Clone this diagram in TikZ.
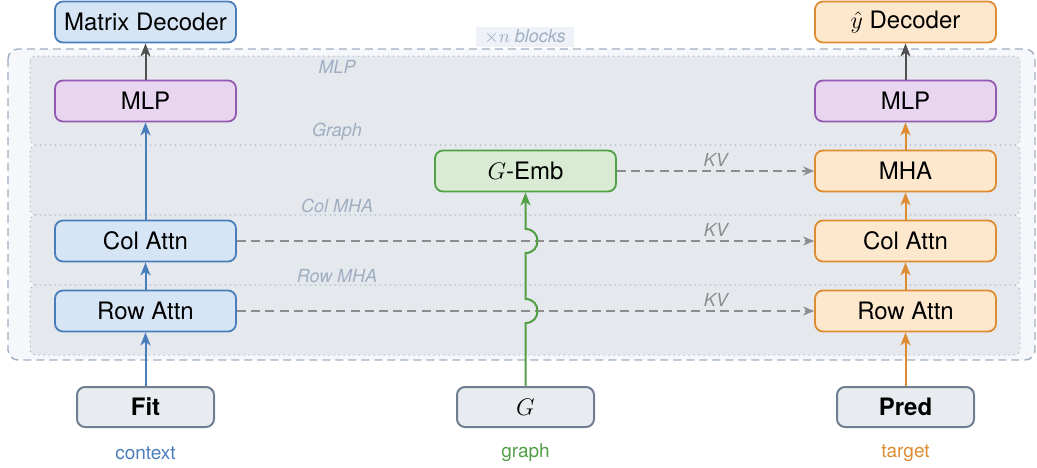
\documentclass[tikz,border=0pt]{standalone}
\usepackage{amsmath}
\usepackage{fontspec}
\setmainfont{TeX Gyre Heros}
\usetikzlibrary{arrows.meta,calc}

\definecolor{blueline}{RGB}{74,126,187}
\definecolor{bluefill}{RGB}{214,229,245}
\definecolor{purpline}{RGB}{148,90,178}
\definecolor{purpfill}{RGB}{232,214,240}
\definecolor{greenline}{RGB}{82,160,70}
\definecolor{greenfill}{RGB}{217,236,211}
\definecolor{orangeline}{RGB}{222,140,50}
\definecolor{orangefill}{RGB}{253,232,206}
\definecolor{inputline}{RGB}{112,126,145}
\definecolor{inputfill}{RGB}{232,236,240}
\definecolor{bandfill}{RGB}{229,232,237}
\definecolor{framefill}{RGB}{246,247,250}
\definecolor{framecol}{RGB}{160,174,194}
\definecolor{tagfill}{RGB}{238,241,247}
\definecolor{kvgray}{RGB}{140,140,140}
\definecolor{outgray}{RGB}{80,80,80}

\tikzset{
  box/.style={rounded corners=4pt, line width=0.9pt, minimum width=90.5pt,
    minimum height=20.5pt, inner sep=0pt, font=\fontsize{12}{14}\selectfont},
  ctxbox/.style={box, draw=blueline, fill=bluefill},
  mlpbox/.style={box, draw=purpline, fill=purpfill},
  graphbox/.style={box, draw=greenline, fill=greenfill},
  tgtbox/.style={box, draw=orangeline, fill=orangefill},
  inbox/.style={box, draw=inputline, fill=inputfill, minimum width=68.5pt,
    minimum height=20pt, line width=1pt},
  band/.style={draw=framecol, dotted, fill=bandfill, rounded corners=3pt, line width=0.5pt},
  bandlab/.style={text=framecol, font=\fontsize{9}{11}\selectfont\itshape, inner sep=0pt},
  sublab/.style={font=\fontsize{9.5}{11}\selectfont, inner sep=0pt},
  flow/.style={draw=#1, line width=1pt, -{Stealth[length=6.5pt,width=5pt,inset=1.8pt]}},
  kvarrow/.style={draw=kvgray, line width=0.9pt, dash pattern=on 4.5pt off 2.6pt,
    -{Stealth[length=5.5pt,width=4.5pt,inset=1.8pt]}},
  kvlab/.style={text=kvgray, font=\fontsize{9}{11}\selectfont\itshape, above, inner sep=2pt}
}

\begin{document}
\begin{tikzpicture}[x=0.5pt,y=-0.5pt]
  \useasboundingbox (0,0) rectangle (1037,467);

  % the repeated block and its four bands
  \draw[framecol, fill=framefill, rounded corners=5pt, line width=0.7pt,
    dash pattern=on 4pt off 2.5pt] (8,49) rectangle (1035,360);
  \node[fill=tagfill, text=framecol, font=\fontsize{9}{11}\selectfont\itshape,
    inner xsep=4pt, inner ysep=1.5pt] (reps) at (525,37) {$\times n$ blocks};
  \draw[band] (30,56) rectangle (1020,145);
  \draw[band] (30,145) rectangle (1020,215);
  \draw[band] (30,215) rectangle (1020,285);
  \draw[band] (30,285) rectangle (1020,355);
  \node[bandlab] (labmlp) at (337,67) {MLP};
  \node[bandlab] (labgraph) at (337,132) {Graph};
  \node[bandlab] (labcol) at (337,206) {Col MHA};
  \node[bandlab] (labrow) at (337,276) {Row MHA};

  % context side
  \node[ctxbox] (matdec) at (145.5,22) {Matrix Decoder};
  \node[mlpbox] (mlpL) at (145.5,101) {MLP};
  \node[ctxbox] (colL) at (145.5,241) {Col Attn};
  \node[ctxbox] (rowL) at (145.5,311) {Row Attn};
  \node[inbox] (fit) at (145.5,407) {\textbf{Fit}};
  \node[sublab, text=blueline] (ctxlab) at (145.5,453) {context};

  % graph
  \node[graphbox] (gemb) at (525.5,171) {$G$-Emb};
  \node[inbox] (gin) at (525.5,407) {$G$};
  \node[sublab, text=greenline] (graphlab) at (525.5,453) {graph};

  % target side
  \node[tgtbox] (ydec) at (905.5,22) {$\hat{y}$\ Decoder};
  \node[mlpbox] (mlpR) at (905.5,101) {MLP};
  \node[tgtbox] (mha) at (905.5,171) {MHA};
  \node[tgtbox] (colR) at (905.5,241) {Col Attn};
  \node[tgtbox] (rowR) at (905.5,311) {Row Attn};
  \node[inbox] (pred) at (905.5,407) {\textbf{Pred}};
  \node[sublab, text=orangeline] (tgtlab) at (905.5,453) {target};

  % vertical flow
  \draw[flow=blueline] (fit) -- (rowL);
  \draw[flow=blueline] (rowL) -- (colL);
  \draw[flow=blueline] (colL) -- (mlpL);
  \draw[flow=outgray] (mlpL) -- (matdec);
  \draw[flow=orangeline] (pred) -- (rowR);
  \draw[flow=orangeline] (rowR) -- (colR);
  \draw[flow=orangeline] (colR) -- (mha);
  \draw[flow=orangeline] (mha) -- (mlpR);
  \draw[flow=outgray] (mlpR) -- (ydec);

  % key/value links
  \draw[kvarrow] (rowL.east) -- (rowR.west) node[kvlab, pos=0.83] {KV};
  \draw[kvarrow] (colL.east) -- (colR.west) node[kvlab, pos=0.83] {KV};
  \draw[kvarrow] (gemb.east) -- (mha.west) node[kvlab, pos=0.5] {KV};

  % graph input, hopping over the links
  \draw[flow=greenline] (gin.north)
    -- ($(gin.north |- rowL.east)+(0,12)$)
    .. controls +(16,0) and +(16,0) .. ($(gin.north |- rowL.east)+(0,-12)$)
    -- ($(gin.north |- colL.east)+(0,12)$)
    .. controls +(16,0) and +(16,0) .. ($(gin.north |- colL.east)+(0,-12)$)
    -- (gemb.south);
\end{tikzpicture}
\end{document}
